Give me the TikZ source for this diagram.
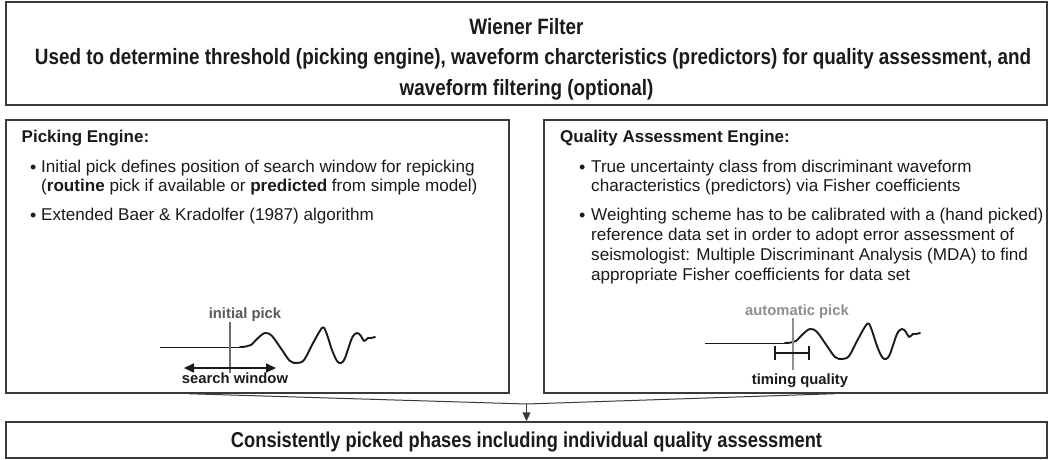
\documentclass[tikz,border=0pt]{standalone}
\usepackage{fontspec}
\setmainfont{Liberation Sans}
\newfontfamily\condfont[FakeStretch=0.85]{Liberation Sans}
\usetikzlibrary{arrows.meta}
\definecolor{frame}{HTML}{3A3A3A}
\definecolor{ink}{HTML}{1A1A1A}
\definecolor{pickgray}{HTML}{6E6E6E}
\definecolor{autogray}{HTML}{8E8E8E}
\tikzset{
  box/.style={draw=frame, line width=1.5pt, inner sep=0pt},
  toptext/.style={font=\condfont\bfseries\fontsize{22.2}{24}\selectfont, anchor=base, inner sep=0pt, text=ink},
  bottext/.style={font=\condfont\bfseries\fontsize{21.5}{24}\selectfont, anchor=base, inner sep=0pt, text=ink},
  head/.style={font=\bfseries\fontsize{17}{20}\selectfont, anchor=base west, inner sep=0pt, text=ink},
  body/.style={font=\fontsize{17.1}{20}\selectfont, anchor=base west, inner sep=0pt, text=ink},
  blt/.style={font=\fontsize{18}{20}\selectfont, anchor=base west, inner sep=0pt, text=ink, yshift=-1pt},
  lab/.style={font=\bfseries\fontsize{14.8}{16}\selectfont, anchor=base, inner sep=0pt},
  conn/.style={draw=frame, line width=1pt},
  pickline/.style={line width=1.6pt},
  wave/.pic={
    \draw[line width=0.9pt, ink] (0,0) -- (84,0);
    \draw[line width=1.9pt, ink, line join=round, line cap=round]
      plot[smooth, tension=0.55] coordinates {(80,0)(86,-0.5)(91,-2)(98,-9)(105,-14)(112,-11)(122,3)(130,14)(137,16)(144,13)(152,-2)(162,-19)(166,-15)(172,3)(177,14)(181,16)(185,11)(192,-9)(197,-14)(201,-11)(204,-6)(208,-9)(211,-9)(215,-10)};
  }
}
\begin{document}
\begin{tikzpicture}[x=1pt,y=-1pt]
\useasboundingbox (0,0) rectangle (1049,460);

% boxes
\node[box, minimum width=1041pt, minimum height=103pt] (top) at (526.5,53.5) {};
\node[box, minimum width=503pt, minimum height=273pt] (lbox) at (257.5,256.5) {};
\node[box, minimum width=503pt, minimum height=273pt] (rbox) at (795.5,256.5) {};
\node[box, minimum width=1041pt, minimum height=36pt] (bbox) at (526.5,440) {};

% top text
\node[toptext] (t1) at (526.5,35) {Wiener Filter};
\node[toptext] (t2) at (533,64.5) {Used to determine threshold (picking engine), waveform charcteristics (predictors) for quality assessment, and};
\node[toptext] (t3) at (526.5,95) {waveform filtering (optional)};

% left box text
\node[head] (lh) at (21.5,142) {Picking Engine:};
\node[blt] (lb1) at (30,172) {\textbullet};
\node[body] (l1a) at (41,172) {Initial pick defines position of search window for repicking};
\node[body] (l1b) at (41,191) {(\textbf{routine} pick if available or \textbf{predicted} from simple model)};
\node[blt] (lb2) at (30,220) {\textbullet};
\node[body] (l2) at (41,220) {Extended Baer \& Kradolfer (1987) algorithm};

% right box text
\node[head] (rh) at (560,142) {Quality Assessment Engine:};
\node[blt] (rb1) at (579,172) {\textbullet};
\node[body] (r1a) at (591,172) {True uncertainty class from discriminant waveform};
\node[body] (r1b) at (591,191) {characteristics (predictors) via Fisher coefficients};
\node[blt] (rb2) at (579,220) {\textbullet};
\node[body] (r2a) at (591,220) {Weighting scheme has to be calibrated with a (hand picked)};
\node[body] (r2b) at (591,240) {reference data set in order to adopt error assessment of};
\node[body] (r2c) at (591,260) {seismologist: Multiple Discriminant Analysis (MDA) to find};
\node[body] (r2d) at (591,280) {appropriate Fisher coefficients for data set};

% left waveform sketch
\pic at (160,347) {wave};
\draw[pickline, pickgray] (230,322) -- (230,373);
\node[lab, text=pickgray!80!black] (ip) at (245,318) {initial pick};
\draw[line width=1.6pt, ink, {Triangle[length=10pt,width=9pt]}-{Triangle[length=10pt,width=9pt]}] (184,368) -- (276,368);
\node[lab, text=ink] (sw) at (235,383) {search window};

% right waveform sketch
\pic at (705,343) {wave};
\draw[pickline, autogray] (793,318) -- (793,370);
\node[lab, text=autogray] (ap) at (797,315) {automatic pick};
\draw[line width=2pt, ink] (775,346) -- (775,360) (775,353) -- (809,353) (809,346) -- (809,360);
\node[lab, text=ink] (tq) at (800,384) {timing quality};

% connectors
\coordinate (j) at (526.5,404);
\draw[conn] ([xshift=184pt]lbox.south west) -- (j) -- ([xshift=-214pt]rbox.south east);
\draw[conn, -{Triangle[length=9pt,width=8pt]}] (j) -- (bbox.north);

% bottom text
\node[bottext] (b1) at (526.5,447) {Consistently picked phases including individual quality assessment};
\end{tikzpicture}
\end{document}
